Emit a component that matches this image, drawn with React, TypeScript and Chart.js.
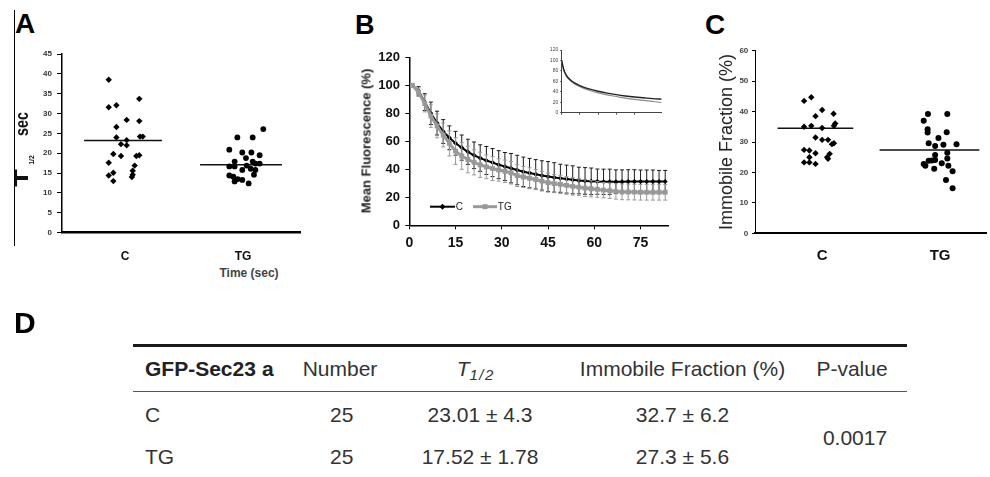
import React, { useEffect, useRef } from 'react';
import { Chart, registerables } from 'chart.js';
Chart.register(...registerables);

const FONT = '"Liberation Sans", Arial, Helvetica, sans-serif';
Chart.defaults.font.family = FONT;
Chart.defaults.color = '#222';

// ---------- Panel A : T1/2 (sec) ----------
const GROUPS = ['C', 'TG'];
const A_C_VALUES = [38.5, 31.6, 32.1, 33.7, 28.4, 28.1, 26.6, 24.0, 24.2, 24.2, 22.3, 23.3, 22.0, 19.8, 19.3, 19.3, 19.5, 17.6, 16.9, 15.1, 14.4, 15.6, 14.6, 13.0, 14.0];
const A_C_JITTER = [-0.138, -0.138, -0.073, 0.121, 0.014, 0.121, -0.073, -0.073, 0.127, 0.15, -0.034, 0.014, 0.014, -0.099, -0.034, 0.096, 0.121, -0.138, 0.082, -0.099, -0.138, 0.065, 0.065, -0.099, 0.058];
const A_TG_VALUES = [24.0, 24.0, 26.1, 20.9, 20.2, 20.2, 18.8, 19.5, 17.9, 17.9, 17.4, 17.4, 16.7, 16.7, 15.8, 16.1, 14.6, 14.4, 14.1, 13.5, 13.3, 12.9, 12.4, 15.8, 16.9];
const A_TG_JITTER = [-0.048, 0.082, 0.172, -0.116, -0.006, 0.071, 0.025, 0.141, -0.071, 0.082, 0.105, 0.141, -0.116, -0.071, -0.006, 0.065, 0.093, -0.116, -0.082, -0.045, -0.006, -0.071, 0.048, 0.105, 0.031];
const A_MEANS = [23.2, 17.1];
const A_MEAN_SPANS = [[-0.347, 0.314], [-0.364, 0.33]];

// ---------- Panel B : Mean fluorescence ----------
const B_TIME = [1, 3, 5, 7, 9, 11, 13, 15, 17, 19, 21, 23, 25, 27, 29, 31, 33, 35, 37, 39, 41, 43, 45, 47, 49, 51, 53, 55, 57, 59, 61, 63, 65, 67, 69, 71, 73, 75, 77, 79, 81, 83];
const B_C = [100, 96, 88, 80, 73, 67, 62.5, 58.6, 55.5, 52.5, 50, 48, 46.3, 44.8, 43.3, 42, 40.8, 39.5, 38.2, 37.3, 36.4, 35.6, 34.8, 34.2, 33.6, 33, 32.5, 32, 31.7, 31.4, 31.2, 31.1, 31.1, 31.1, 31.1, 31.2, 31.2, 31.2, 31.2, 31.2, 31.2, 31.2];
const B_C_SD = [0, 3, 6, 8, 8.5, 8.5, 8.5, 8.5, 9, 9, 9.5, 9.5, 10, 10, 10, 10, 10.5, 10.5, 10.5, 10.5, 10.5, 10.5, 10.7, 10.5, 10, 10, 10, 9.5, 9.5, 9.5, 9, 9, 9, 8.5, 8.5, 8.5, 8.5, 8.3, 8.3, 8.3, 8, 8];
const B_TG = [100, 95, 87, 78, 71, 64.5, 58.5, 53, 49.5, 47, 45, 43.2, 41.8, 40.5, 39.5, 38.6, 37.5, 35.5, 34.5, 33.6, 32.7, 31.5, 30.5, 29.8, 29.2, 28.5, 27.8, 27.2, 26.6, 26.1, 25.6, 25.1, 24.7, 24.2, 23.9, 23.8, 23.7, 23.6, 23.6, 23.6, 23.6, 23.6];
const B_TG_SD = [0, 3, 6, 8, 8.5, 8.5, 9, 9.5, 9.5, 9.5, 9, 9, 8.5, 8.5, 8, 8, 8, 7.8, 7.5, 7.5, 7.2, 7, 6.8, 6.5, 6.5, 6.3, 6.2, 6, 6, 5.8, 5.6, 5.5, 5.5, 5.5, 5.6, 5.6, 5.6, 5.6, 5.6, 5.6, 5.6, 5.6];
const B_X_TICKS = [0, 15, 30, 45, 60, 75];

// inset (fitted curves)
const INSET_X = [0, 2, 5, 10, 15, 20, 30, 40, 50, 60, 70, 80, 90, 100, 110];
const INSET_C = [100, 84, 72, 62, 56, 52, 45.5, 41, 37.5, 34.5, 32, 30, 28.5, 27, 26];
const INSET_TG = [100, 83, 70.5, 60.5, 54, 50, 43, 38, 34, 31, 28, 25.5, 23.5, 21.5, 19.5];

// ---------- Panel C : Immobile fraction ----------
const C_C_VALUES = [43.5, 44.7, 40.5, 38.5, 39.3, 35.0, 35.3, 34.6, 36.1, 35.3, 31.5, 30.7, 30.7, 29.3, 29.6, 27.4, 27.2, 26.3, 26.1, 25.0, 25.0, 23.3, 23.3, 22.8, 24.5];
const C_C_JITTER = [-0.153, -0.092, 0, -0.056, 0.097, -0.153, -0.092, 0, 0.111, 0.1, -0.056, 0, 0.05, 0.083, 0.1, -0.153, -0.108, -0.056, 0.064, 0.042, -0.108, -0.153, -0.108, -0.056, 0.05];
const C_TG_VALUES = [37.0, 39.2, 39.2, 34.2, 33.1, 33.2, 31.3, 29.6, 28.7, 29.1, 29.3, 25.7, 26.5, 24.6, 23.8, 24.1, 22.8, 22.2, 23.0, 21.2, 22.2, 20.4, 17.5, 14.8, 23.9];
const C_TG_JITTER = [-0.139, -0.103, 0.061, -0.106, -0.106, 0.056, -0.014, -0.097, -0.042, 0.028, 0.139, -0.042, 0.061, 0.061, -0.097, -0.042, -0.139, -0.125, 0.014, -0.05, 0.07, 0.106, 0.05, 0.106, -0.069];
const C_MEANS = [34.5, 27.4];
const C_MEAN_SPANS = [[-0.378, 0.264], [-0.513, 0.333]];

// ---------- Panel D : table ----------
const TABLE_HEAD = ['GFP-Sec23a', 'Number', 'T', 'Immobile Fraction (%)', 'P-value'];
const TABLE_ROWS = [
  ['C', '25', '23.01 ± 4.3', '32.7 ± 6.2'],
  ['TG', '25', '17.52 ± 1.78', '27.3 ± 5.6'],
];
const P_VALUE = '0.0017';

// ---------- plugins ----------
const errorBarPlugin = {
  id: 'errbars',
  beforeDatasetDraw(chart: any, args: any) {
    const ds = chart.data.datasets[args.index];
    if (!ds.errors) return;
    const ctx = chart.ctx;
    const ys = chart.scales.y;
    ctx.save();
    ctx.strokeStyle = ds.errColor;
    ctx.lineWidth = 1;
    args.meta.data.forEach((pt: any, i: number) => {
      const e = ds.errors[i];
      if (!e) return;
      const v = ds.data[i].y;
      const x = pt.x;
      const yt = ys.getPixelForValue(v + e);
      const yb = ys.getPixelForValue(v - e);
      ctx.beginPath();
      ctx.moveTo(x, yt); ctx.lineTo(x, yb);
      ctx.moveTo(x - 2, yt); ctx.lineTo(x + 2, yt);
      ctx.moveTo(x - 2, yb); ctx.lineTo(x + 2, yb);
      ctx.stroke();
    });
    ctx.restore();
  },
};

const bLegendPlugin = {
  id: 'bLegend',
  afterDatasetsDraw(chart: any) {
    const { ctx, chartArea } = chart;
    const y = chartArea.bottom - 18.6;
    const l = chartArea.left;
    const dsC = chart.data.datasets[0];
    const dsT = chart.data.datasets[1];
    ctx.save();
    ctx.strokeStyle = '#000'; ctx.lineWidth = 2;
    ctx.beginPath(); ctx.moveTo(l + 20.7, y); ctx.lineTo(l + 45.7, y); ctx.stroke();
    ctx.fillStyle = '#000';
    ctx.beginPath(); ctx.moveTo(l + 33.2, y - 3); ctx.lineTo(l + 36.2, y); ctx.lineTo(l + 33.2, y + 3); ctx.lineTo(l + 30.2, y); ctx.closePath(); ctx.fill();
    ctx.strokeStyle = '#999'; ctx.lineWidth = 3;
    ctx.beginPath(); ctx.moveTo(l + 63.7, y); ctx.lineTo(l + 87.7, y); ctx.stroke();
    ctx.fillStyle = '#999';
    ctx.fillRect(l + 73.2, y - 2.5, 5, 5);
    ctx.fillStyle = '#222';
    ctx.font = `10px ${FONT}`;
    ctx.textBaseline = 'middle';
    ctx.fillText(dsC.label, l + 46.5, y + 0.5);
    ctx.fillText(dsT.label, l + 88.5, y + 0.5);
    ctx.restore();
  },
};

// ---------- helpers ----------
function dotPanelConfig(opts: any) {
  const { cVals, cJit, tVals, tJit, means, spans, xmin, xmax, ymax, step, yW, xH, padTop, padRight,
    yFont, yColor, yTick, yPad, yBorder, xBorder, xFont, xPad, cRad, tRad } = opts;
  const mk = (vals: number[], jit: number[], g: number) => vals.map((v, i) => ({ x: g + jit[i], y: v }));
  return {
    type: 'scatter',
    data: {
      datasets: [
        { data: mk(cVals, cJit, 1), pointStyle: 'rectRot', pointRadius: cRad, backgroundColor: '#000', borderColor: '#000', pointBorderWidth: 0 },
        { data: mk(tVals, tJit, 2), pointStyle: 'circle', pointRadius: tRad, backgroundColor: '#000', borderColor: '#000', pointBorderWidth: 0 },
        ...means.map((m: number, g: number) => ({
          data: [{ x: g + 1 + spans[g][0], y: m }, { x: g + 1 + spans[g][1], y: m }],
          showLine: true, pointRadius: 0, borderColor: '#111', borderWidth: 1.5,
        })),
      ],
    },
    options: {
      animation: false, responsive: false, events: [],
      layout: { padding: { top: padTop, right: padRight, left: 0, bottom: 0 } },
      plugins: { legend: { display: false }, tooltip: { enabled: false } },
      scales: {
        x: {
          type: 'linear', min: xmin, max: xmax,
          afterBuildTicks: (s: any) => { s.ticks = GROUPS.map((_, i) => ({ value: i + 1 })); },
          afterFit: (s: any) => { s.height = xH; },
          grid: { display: false },
          border: { display: true, color: '#000', width: xBorder },
          ticks: { callback: (v: any) => GROUPS[Math.round(v) - 1] ?? '', font: { size: xFont, weight: 'bold' }, color: '#111', padding: xPad, maxRotation: 0, autoSkip: false },
        },
        y: {
          min: 0, max: ymax,
          afterFit: (s: any) => { s.width = yW; },
          grid: { drawOnChartArea: false, drawTicks: true, tickLength: yTick, color: '#000', lineWidth: 1 },
          border: { display: true, color: '#000', width: yBorder },
          ticks: { stepSize: step, font: { size: yFont, weight: 'bold' }, color: yColor, padding: yPad },
        },
      },
    },
  } as any;
}

const Txt = ({ x, y, size, weight = 'normal', italic = false, color = '#222', align = 'left', children }: any) => {
  const tx = align === 'center' ? '-50%' : align === 'right' ? '-100%' : '0';
  return (
    <div style={{ position: 'absolute', left: x, top: y - 0.8465 * size, fontSize: size, lineHeight: `${size}px`, fontWeight: weight,
      fontStyle: italic ? 'italic' : 'normal', color, whiteSpace: 'nowrap', transform: `translateX(${tx})`, fontFamily: FONT }}>
      {children}
    </div>
  );
};

const VTxt = ({ cx, cy, size, weight = 'normal', color = '#222', sx = 1, children }: any) => (
  <div style={{ position: 'absolute', left: cx, top: cy, fontSize: size, lineHeight: `${size}px`, fontWeight: weight, color,
    whiteSpace: 'nowrap', transform: `translate(-50%, -50%) rotate(-90deg) scale(${sx}, 1)`, fontFamily: FONT }}>
    {children}
  </div>
);

export default function App() {
  const aRef = useRef<HTMLCanvasElement>(null);
  const bRef = useRef<HTMLCanvasElement>(null);
  const iRef = useRef<HTMLCanvasElement>(null);
  const cRef = useRef<HTMLCanvasElement>(null);

  useEffect(() => {
    const charts: Chart[] = [];
    charts.push(new Chart(aRef.current!, dotPanelConfig({
      cVals: A_C_VALUES, cJit: A_C_JITTER, tVals: A_TG_VALUES, tJit: A_TG_JITTER, means: A_MEANS, spans: A_MEAN_SPANS,
      xmin: 0.466, xmax: 2.483, ymax: 45, step: 5, yW: 47, xH: 27.3, padTop: 14, padRight: 10,
      yFont: 8, yColor: '#333', yTick: 5, yPad: 5, yBorder: 1.5, xBorder: 2.5, xFont: 12, xPad: 8.4, cRad: 3.2, tRad: 2.9,
    })));

    charts.push(new Chart(bRef.current!, {
      type: 'line',
      data: {
        datasets: [
          { label: 'C', data: B_TIME.map((t, i) => ({ x: t, y: B_C[i] })), errors: B_C_SD, errColor: '#1a1a1a',
            borderColor: '#000', backgroundColor: '#000', borderWidth: 2, pointStyle: 'rectRot', pointRadius: 2.5, pointBorderWidth: 0, order: 2 },
          { label: 'TG', data: B_TIME.map((t, i) => ({ x: t, y: B_TG[i] })), errors: B_TG_SD, errColor: '#9a9a9a',
            borderColor: '#999', backgroundColor: '#999', borderWidth: 3, pointStyle: 'rect', pointRadius: 3.4, pointBorderWidth: 0, order: 1 },
        ],
      } as any,
      options: {
        animation: false, responsive: false, events: [],
        layout: { padding: { top: 17.3, right: 11.7, left: 0, bottom: 0 } },
        plugins: { legend: { display: false }, tooltip: { enabled: false } },
        scales: {
          x: {
            type: 'linear', min: 0, max: 84,
            afterBuildTicks: (s: any) => { s.ticks = B_X_TICKS.map((v) => ({ value: v })); },
            afterFit: (s: any) => { s.height = 39.7; },
            grid: { drawOnChartArea: false, drawTicks: true, tickLength: 4, color: '#000' },
            border: { display: true, color: '#000', width: 1.5 },
            ticks: { font: { size: 14, weight: 'bold' }, color: '#111', padding: 5, maxRotation: 0, autoSkip: false },
          },
          y: {
            min: 0, max: 120,
            afterFit: (s: any) => { s.width = 69.3; },
            grid: { drawOnChartArea: false, drawTicks: true, tickLength: 4, color: '#000' },
            border: { display: true, color: '#000', width: 1.5 },
            ticks: { stepSize: 20, font: { size: 13, weight: 'bold' }, color: '#111', padding: 5.3 },
          },
        },
      } as any,
      plugins: [errorBarPlugin, bLegendPlugin],
    }));

    charts.push(new Chart(iRef.current!, {
      type: 'line',
      data: {
        datasets: [
          { data: INSET_X.map((x, i) => ({ x, y: INSET_C[i] })), borderColor: '#222', borderWidth: 1.4, pointRadius: 0, cubicInterpolationMode: 'monotone' },
          { data: INSET_X.map((x, i) => ({ x, y: INSET_TG[i] })), borderColor: '#8a8a8a', borderWidth: 1.2, pointRadius: 0, cubicInterpolationMode: 'monotone' },
        ],
      } as any,
      options: {
        animation: false, responsive: false, events: [],
        layout: { padding: { top: 6, right: 8.3, left: 0, bottom: 0 } },
        plugins: { legend: { display: false }, tooltip: { enabled: false } },
        scales: {
          x: {
            type: 'linear', min: 0, max: 110,
            afterBuildTicks: (s: any) => { s.ticks = s.ticks.filter((t: any) => t.value % 20 === 0); },
            afterFit: (s: any) => { s.height = 6.3; },
            grid: { drawOnChartArea: false, drawTicks: true, tickLength: 2, color: '#555' },
            border: { display: true, color: '#444', width: 1 },
            ticks: { display: false, stepSize: 20 },
          },
          y: {
            min: 0, max: 120,
            afterFit: (s: any) => { s.width = 21.7; },
            grid: { drawOnChartArea: false, drawTicks: true, tickLength: 1.5, color: '#555' },
            border: { display: true, color: '#444', width: 1 },
            ticks: { stepSize: 20, font: { size: 5 }, color: '#444', padding: 2 },
          },
        },
      } as any,
    }));

    charts.push(new Chart(cRef.current!, dotPanelConfig({
      cVals: C_C_VALUES, cJit: C_C_JITTER, tVals: C_TG_VALUES, tJit: C_TG_JITTER, means: C_MEANS, spans: C_MEAN_SPANS,
      xmin: 0.431, xmax: 2.389, ymax: 60, step: 10, yW: 30, xH: 26.7, padTop: 10.7, padRight: 0,
      yFont: 8, yColor: '#444', yTick: 3, yPad: 3.7, yBorder: 1, xBorder: 2, xFont: 15, xPad: 6, cRad: 3.2, tRad: 3,
    })));

    return () => charts.forEach((c) => c.destroy());
  }, []);

  const cv = (l: number, t: number, w: number, h: number) => ({ position: 'absolute' as const, left: l, top: t, width: w, height: h });

  return (
    <div style={{ position: 'fixed', left: 0, top: 0, width: 990, height: 477, background: '#fff', overflow: 'hidden', fontFamily: FONT }}>
      <canvas ref={aRef} width={295} height={220} style={cv(15, 40, 295, 220)} />
      <canvas ref={bRef} width={340} height={225} style={cv(340, 40, 340, 225)} />
      <canvas ref={iRef} width={130} height={75} style={cv(540, 44, 130, 75)} />
      <canvas ref={cRef} width={265} height={220} style={cv(725, 40, 265, 220)} />

      {/* Panel A decorations */}
      <div style={{ position: 'absolute', left: 13.5, top: 10, width: 1.5, height: 236, background: '#000' }} />
      <Txt x={15} y={33.3} size={28} weight="bold" color="#000">A</Txt>
      <VTxt cx={21.5} cy={177.5} size={18} weight="bold" color="#111" sx={1.6}>T</VTxt>
      <VTxt cx={30.5} cy={159.5} size={7} weight="bold" color="#111">1/2</VTxt>
      <VTxt cx={22} cy={123.5} size={18} weight="bold" color="#111" sx={0.8}>sec</VTxt>
      <Txt x={249} y={277} size={12} weight="bold" color="#444" align="center">Time (sec)</Txt>

      {/* Panel B */}
      <Txt x={355} y={35} size={27} weight="bold" color="#000">B</Txt>
      <VTxt cx={366} cy={140.5} size={13} weight="bold" color="#222">Mean Fluorescence (%)</VTxt>

      {/* Panel C */}
      <Txt x={705} y={35} size={28} weight="bold" color="#000">C</Txt>
      <VTxt cx={725.8} cy={141.7} size={18} color="#222">Immobile Fraction (%)</VTxt>

      {/* Panel D */}
      <Txt x={14} y={333.3} size={30} weight="bold" color="#000">D</Txt>
      <div style={{ position: 'absolute', left: 133, top: 343.5, width: 774, height: 3, background: '#1a1a1a' }} />
      <div style={{ position: 'absolute', left: 133, top: 390.5, width: 774, height: 1.5, background: '#555' }} />
      <Txt x={145} y={376} size={21} weight="bold" color="#222">GFP-Sec23<span style={{ marginLeft: 6 }}>a</span></Txt>
      <Txt x={340} y={376} size={21} color="#333" align="center">{TABLE_HEAD[1]}</Txt>
      <Txt x={456.7} y={376} size={21} italic color="#333">
        {TABLE_HEAD[2]}<span style={{ fontSize: 15, letterSpacing: 1.5, position: 'relative', top: 4 }}>1/2</span>
      </Txt>
      <Txt x={682.5} y={376} size={21} color="#333" align="center">{TABLE_HEAD[3]}</Txt>
      <Txt x={852} y={376} size={21} color="#333" align="center">{TABLE_HEAD[4]}</Txt>
      {TABLE_ROWS.map((r, i) => {
        const y = i === 0 ? 421.7 : 463.3;
        return (
          <React.Fragment key={i}>
            <Txt x={145} y={y} size={21} color="#333">{r[0]}</Txt>
            <Txt x={341.7} y={y} size={21} color="#333" align="center">{r[1]}</Txt>
            <Txt x={480} y={y} size={21} color="#333" align="center">{r[2]}</Txt>
            <Txt x={682.5} y={y} size={21} color="#333" align="center">{r[3]}</Txt>
          </React.Fragment>
        );
      })}
      <Txt x={855} y={445} size={21} color="#333" align="center">{P_VALUE}</Txt>
    </div>
  );
}
